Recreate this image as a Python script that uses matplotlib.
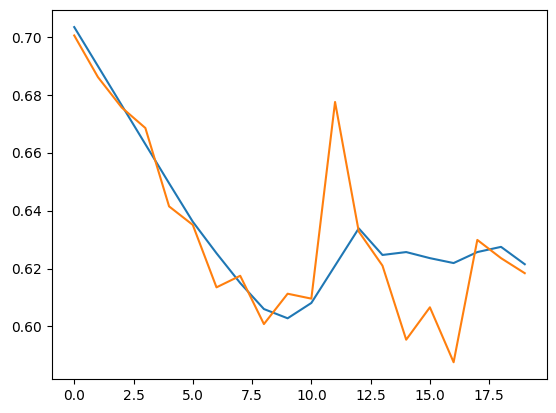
import matplotlib
matplotlib.use("Agg")
import matplotlib.pyplot as plt

# ==============================
# DATOS
# ==============================

serie_azul = [0.7035, 0.6900, 0.6765, 0.6630, 0.6495, 0.6362, 0.6253, 0.6150,
              0.6060, 0.6028, 0.6081, 0.6210, 0.6339, 0.6247, 0.6257, 0.6236,
              0.6219, 0.6257, 0.6275, 0.6215]

serie_naranja = [0.7006, 0.6862, 0.6757, 0.6686, 0.6415, 0.6351, 0.6135, 0.6175,
                 0.6008, 0.6113, 0.6096, 0.6776, 0.6328, 0.6210, 0.5954, 0.6066,
                 0.5876, 0.6299, 0.6236, 0.6184]

x = list(range(len(serie_azul)))

# ==============================
# GRAFICAR
# ==============================

fig = plt.figure(figsize=(5.56, 4.13), dpi=100)
ax = fig.add_axes([0.093, 0.0823, 0.8913, 0.8927])

ax.plot(x, serie_azul)
ax.plot(x, serie_naranja)

fig.savefig("out.png", dpi=100)
